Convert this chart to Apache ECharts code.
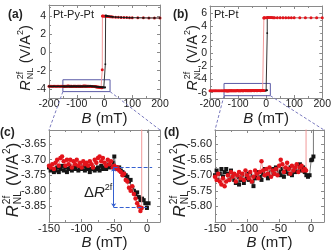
<!DOCTYPE html>
<html><head><meta charset="utf-8">
<script src="https://cdn.jsdelivr.net/npm/echarts@6/dist/echarts.min.js"></script>
<style>html,body{margin:0;padding:0;background:#fff}#c{width:334px;height:251px}</style>
</head><body><div id="c"></div>
<script>
// ---------- DATA ----------
// field sweep points shared by the zoomed panels (mT)
const bSweep = [-150,-147.5,-145,-142.5,-140,-137.5,-135,-132.5,-130,-127.5,-125,-122.5,-120,-117.5,-115,-112.5,-110,-107.5,-105,-102.5,-100,-97.5,-95,-92.5,-90,-87.5,-85,-82.5,-80,-77.5,-75,-72.5,-70,-67.5,-65,-62.5,-60,-57.5,-55,-52.5,-50,-47.5,-45,-42.5,-40,-37.5,-35,-32.5,-30,-27.5,-25,-22.5,-20,-17.5,-15,-12.5,-10];
// low-field extension for full sweeps
const lowExtB = [-200,-195,-190,-185,-180,-175,-170,-165,-160,-155];
// high branch fields
const blackHighB = [4,6,8,10,15,20,25,30,40,50,60,70,80,90,100,120,140,160,180,200];
const redHighB = [-7.5,-5,0,5,10,15,20,25,30,40,50,60,70,80,90,100,120,140,160,180,200];

// Pt-Py-Pt (panels a, c)
const redC = [-3.720,-3.725,-3.715,-3.730,-3.710,
  -3.700,-3.720,-3.695,-3.690, -3.705,-3.720,-3.700,-3.715,
  -3.700,-3.725,-3.705,-3.715, -3.700,-3.720,-3.710,-3.725,
  -3.705,-3.715,-3.710,-3.720, -3.705,-3.715,-3.725,-3.700,
  -3.710,-3.695,-3.690,-3.705, -3.695,-3.710,-3.720,-3.700,
  -3.715,-3.705,-3.725,-3.720, -3.730,-3.725,-3.735,-3.740,
  -3.750,-3.745,-3.765,-3.770, -3.790,-3.800,-3.785,-3.810,
  -3.825,-3.840,-3.850,-3.865];
const redTailBC = [-8, -8];
const redTailVC = [-3.855, -1.9];
const blackC = [-3.725,-3.735,-3.730,-3.740,-3.735,
  -3.725,-3.740,-3.730,-3.720, -3.735,-3.725,-3.740,-3.730,
  -3.720,-3.735,-3.725,-3.730, -3.720,-3.735,-3.725,-3.730,
  -3.720,-3.735,-3.725,-3.730, -3.740,-3.730,-3.725,-3.735,
  -3.730,-3.725,-3.735,-3.720, -3.730,-3.725,-3.730,-3.715,
  -3.725,-3.720,-3.710,-3.690, -3.725,-3.730,-3.725,-3.735,
  -3.740,-3.745,-3.750,-3.755, -3.770,-3.765,-3.790,-3.800,
  -3.810,-3.805,-3.820,-3.830];
const blackTailBC = [-7.5,-5,-2.5,0,2.5,3];
const blackTailVC = [-3.825,-3.830,-3.840,-3.855,-3.840,-1.3];
const redLowA = [-3.71,-3.72,-3.70,-3.715,-3.72,-3.705,-3.71,-3.72,-3.70,-3.715];
const blackLowA = [-3.73,-3.725,-3.735,-3.73,-3.72,-3.735,-3.73,-3.725,-3.735,-3.73];
const blackHighA = [4.05,4.03,4.01,3.99,3.96,3.94,3.92,3.90,3.87,3.85,3.84,3.83,3.82,3.81,3.81,3.80,3.79,3.78,3.78,3.77];
const redHighA = [3.98,3.98,3.97,3.96,3.95,3.93,3.92,3.90,3.89,3.86,3.85,3.84,3.83,3.82,3.81,3.81,3.80,3.79,3.78,3.78,3.77];

// Pt-Pt (panels b, d)
const redD = [-5.705,-5.715,-5.695,-5.720,-5.730,
  -5.710,-5.735,-5.720,-5.700, -5.715,-5.690,-5.705,-5.695,
  -5.720,-5.700,-5.690,-5.710, -5.695,-5.715,-5.685,-5.700,
  -5.710,-5.690,-5.720,-5.705, -5.685,-5.695,-5.710,-5.690,
  -5.655,-5.685,-5.700,-5.680, -5.695,-5.675,-5.705,-5.685,
  -5.695,-5.680,-5.700,-5.670, -5.650,-5.665,-5.690,-5.675,
  -5.660,-5.680,-5.695,-5.670, -5.685,-5.675,-5.665,-5.690,
  -5.675,-5.670,-5.685,-5.680];
const redTailBD = [-8, -8];
const redTailVD = [-5.685, 5.3];
const blackD = [-5.700,-5.685,-5.715,-5.695,-5.680,
  -5.705,-5.690,-5.680,-5.695, -5.710,-5.685,-5.700,-5.715,
  -5.725,-5.705,-5.730,-5.715, -5.700,-5.725,-5.710,-5.695,
  -5.715,-5.700,-5.720,-5.735, -5.710,-5.700,-5.690,-5.705,
  -5.715,-5.695,-5.680,-5.700, -5.710,-5.690,-5.700,-5.680,
  -5.695,-5.675,-5.685,-5.690, -5.700,-5.680,-5.705,-5.690,
  -5.680,-5.695,-5.675,-5.700, -5.685,-5.690,-5.670,-5.680,
  -5.665,-5.685,-5.675,-5.690];
const blackTailBD = [-7.5,-5,-2.5,0,1.5,3.5,4];
const blackTailVD = [-5.700,-5.705,-5.700,-5.652,-5.650,-5.640,3.0];
const redLowB = [-5.70,-5.71,-5.695,-5.705,-5.715,-5.70,-5.71,-5.695,-5.705,-5.71];
const blackLowB = [-5.705,-5.695,-5.71,-5.70,-5.69,-5.705,-5.715,-5.70,-5.695,-5.705];
const blackHighBB = [5.38,5.37,5.37,5.36,5.36,5.36,5.35,5.35,5.35,5.35,5.34,5.34,5.34,5.34,5.34,5.33,5.33,5.33,5.33,5.33];
const redHighBB = [5.33,5.34,5.34,5.35,5.35,5.35,5.35,5.34,5.34,5.34,5.34,5.34,5.34,5.33,5.33,5.33,5.33,5.33,5.33,5.33,5.33];

// axis tick labels
const xTicksFull = [-200,-100,0,100,200];
const xTicksZoom = [-150,-100,-50,0];
const yTicksA = [-4,-2,0,2,4];
const yTicksB = [-6,-4,-2,0,2,4,6];
const yTicksC = [-3.85,-3.80,-3.75,-3.70,-3.65];
const yTicksD = [-5.80,-5.75,-5.70,-5.65,-5.60];

// zoom boxes & annotations (data units)
const boxA = {x:[-150,20], y:[-4.3,-3.0]};
const boxB = {x:[-150,15], y:[-6.45,-4.6]};
const zoomX = [-150, 20];
const zoomYC = [-3.90, -3.605];
const zoomYD = [-5.85, -5.555];
const deltaB = -51, deltaTop = -3.725, deltaBottom = -3.853, dashEndTop = 8, dashEndBottom = 0;
const deltaLabelPos = [-53, -3.805];

// ---------- STYLE ----------
const FAM = '"Liberation Sans", Arial, sans-serif';
const FRAME = '#8a8a8a', TXT = '#222';
const RED = '#e3141b', REDLINE = '#f29a9a', BLK = '#151515', BLKLINE = '#777';
const BLUE = '#3560d0', BOX = '#5a5aa6', CONN = '#7b7bbf';

const chart = echarts.init(document.getElementById('c'), null, {renderer:'canvas'});
const pairs = (bs, vs) => bs.map((b,i)=>[b, vs[i]]);
const near = (arr, v) => arr.some(t => Math.abs(t - v) < 1e-6);

const xAxes = [], yAxes = [];
function addAxes(g, c) {
  const tick = {show:true, inside:true, length:3, lineStyle:{color:FRAME}};
  const minor = {show:true, splitNumber:2, length:2, lineStyle:{color:FRAME}};
  const line = {show:true, onZero:false, lineStyle:{color:FRAME, width:1}};
  const xBase = {type:'value', gridIndex:g, min:c.xMin, max:c.xMax, interval:c.xInt,
    axisLine:line, axisTick:tick, minorTick:minor, splitLine:{show:false}};
  xAxes.push(Object.assign({}, xBase, {position:'bottom',
    axisLabel:{margin:1, fontSize:c.lbl, color:TXT, fontFamily:FAM,
      formatter: v => near(c.xTicks, v) ? String(Math.round(v)) : ''},
    name:'{i|B} (mT)', nameLocation:'middle', nameGap:c.nameGap,
    nameTextStyle:{fontSize:15, color:TXT, fontFamily:FAM,
      rich:{i:{fontStyle:'italic', fontSize:15, color:TXT, fontFamily:FAM}}}}));
  xAxes.push(Object.assign({}, xBase, {position:'top', axisLabel:{show:false}}));
  const yBase = {type:'value', gridIndex:g, min:c.yMin, max:c.yMax, splitNumber:c.ySplit,
    axisLine:line, axisTick:tick, minorTick:minor, splitLine:{show:false}};
  yAxes.push(Object.assign({}, yBase, {position:'left',
    axisLabel:{margin:3, fontSize:c.lbl, color:TXT, fontFamily:FAM,
      formatter: v => near(c.yTicks, v) ? v.toFixed(c.yDig) : ''}}));
  yAxes.push(Object.assign({}, yBase, {position:'right', axisLabel:{show:false}}));
}
addAxes(0, {xMin:-200,xMax:200,xInt:100,xTicks:xTicksFull,yMin:-5,yMax:5.2,ySplit:5,yTicks:yTicksA,yDig:0,lbl:10.5,nameGap:11});
addAxes(1, {xMin:-200,xMax:200,xInt:100,xTicks:xTicksFull,yMin:-6.8,yMax:7.1,ySplit:7,yTicks:yTicksB,yDig:0,lbl:10.5,nameGap:11});
addAxes(2, {xMin:zoomX[0],xMax:zoomX[1],xInt:50,xTicks:xTicksZoom,yMin:zoomYC[0],yMax:zoomYC[1],ySplit:6,yTicks:yTicksC,yDig:2,lbl:11,nameGap:12});
addAxes(3, {xMin:zoomX[0],xMax:zoomX[1],xInt:50,xTicks:xTicksZoom,yMin:zoomYD[0],yMax:zoomYD[1],ySplit:6,yTicks:yTicksD,yDig:2,lbl:11,nameGap:12});

function lineSeries(g, data, red, size, z, lineCol) {
  return {type:'line', xAxisIndex:2*g, yAxisIndex:2*g, data,
    symbol: red ? 'circle' : 'rect', symbolSize: size,
    itemStyle:{color: red ? RED : BLK, borderWidth:0},
    lineStyle:{color: lineCol || (red ? REDLINE : BLKLINE), width:1},
    z, silent:true, animation:false, clip:true};
}

const sA_black = lineSeries(0, [...pairs(lowExtB, blackLowA), ...pairs(bSweep, blackC), ...pairs(blackTailBC, blackTailVC), ...pairs(blackHighB, blackHighA)], false, 1.6, 3, '#333');
const sA_red = lineSeries(0, [...pairs(lowExtB, redLowA), ...pairs(bSweep, redC), ...pairs(redTailBC, redTailVC), ...pairs(redHighB, redHighA)], true, 3, 2);
const sB_black = lineSeries(1, [...pairs(lowExtB, blackLowB), ...pairs(bSweep, blackD), ...pairs(blackTailBD, blackTailVD), ...pairs(blackHighB, blackHighBB)], false, 1.6, 2, '#333');
const sB_red = lineSeries(1, [...pairs(lowExtB, redLowB), ...pairs(bSweep, redD), ...pairs(redTailBD, redTailVD), ...pairs(redHighB, redHighBB)], true, 3, 3);
const sC_black = lineSeries(2, [...pairs(bSweep, blackC), ...pairs(blackTailBC, blackTailVC)], false, 4, 2);
const sC_red = lineSeries(2, [...pairs(bSweep, redC), ...pairs(redTailBC, redTailVC)], true, 4.5, 3);
const sD_black = lineSeries(3, [...pairs(bSweep, blackD), ...pairs(blackTailBD, blackTailVD)], false, 4, 2);
const sD_red = lineSeries(3, [...pairs(bSweep, redD), ...pairs(redTailBD, redTailVD)], true, 4.5, 3);

const boxArea = b => ({silent:true, itemStyle:{color:'rgba(0,0,0,0)', borderColor:BOX, borderWidth:1},
  data:[[{xAxis:b.x[0], yAxis:b.y[0]}, {xAxis:b.x[1], yAxis:b.y[1]}]]});
sA_black.markArea = boxArea(boxA);
sB_black.markArea = boxArea(boxB);

const dashed = {color:BLUE, width:1, type:[4,2]};
const solid = {color:BLUE, width:1, type:'solid'};
sC_red.markLine = {silent:true, symbolSize:4, label:{show:false}, lineStyle:dashed, animation:false,
  data:[
    [{coord:[deltaB, deltaTop], symbol:'none', lineStyle:dashed}, {coord:[dashEndTop, deltaTop], symbol:'none', lineStyle:dashed}],
    [{coord:[deltaB, deltaBottom], symbol:'none', lineStyle:dashed}, {coord:[dashEndBottom, deltaBottom], symbol:'none', lineStyle:dashed}],
    [{coord:[deltaB, deltaTop], symbol:'arrow', lineStyle:solid}, {coord:[deltaB, deltaBottom], symbol:'arrow', lineStyle:solid}]
  ]};

chart.setOption({
  animation:false,
  grid:[
    {left:49, top:5, width:111, height:93},
    {left:210, top:6, width:113, height:92},
    {left:49, top:130, width:111, height:92},
    {left:215, top:130, width:109, height:92}
  ],
  xAxis:xAxes, yAxis:yAxes,
  series:[sA_black, sA_red, sB_black, sB_red, sC_black, sC_red, sD_black, sD_red]
});

// ---------- annotations (text & connectors) ----------
const px = (g, pt) => chart.convertToPixel({xAxisIndex:2*g, yAxisIndex:2*g}, pt);
const mctx = document.createElement('canvas').getContext('2d');
const tw = (t, f) => { mctx.font = f; return mctx.measureText(t).width; };

function txt(x, y, text, font, align, extra) {
  return Object.assign({type:'text', x, y, silent:true,
    style:{text, font, fill:TXT, textAlign:align||'left', align:align||'left',
      textVerticalAlign:'middle', verticalAlign:'middle'}}, extra||{});
}
function yTitle(cx, cy, fs) {
  const sm = fs*0.62;
  const fR = `italic ${fs}px ${FAM}`, fN = `${fs}px ${FAM}`, fS = `${sm}px ${FAM}`;
  const wR = tw('R', fR), wSup = tw('2f', fS), wSub = tw('NL', fS);
  const wMid = tw(' (V/A', fN), w2 = tw('2', fS), wP = tw(')', fN);
  const gap = Math.max(wSup, wSub) + 0.5;
  const W = wR + 1 + gap + wMid + w2 + wP;
  let x = -W/2;
  const ch = [];
  ch.push(txt(x, 0, 'R', fR)); x += wR + 1;
  ch.push(txt(x, -fs*0.36, '2f', fS));
  ch.push(txt(x, fs*0.3, 'NL', fS)); x += gap;
  ch.push(txt(x, 0, ' (V/A', fN)); x += wMid;
  ch.push(txt(x, -fs*0.36, '2', fS)); x += w2;
  ch.push(txt(x, 0, ')', fN));
  return {type:'group', x:cx, y:cy, rotation:Math.PI/2, children:ch, silent:true};
}
function conn(p1, p2) {
  return {type:'line', silent:true, shape:{x1:p1[0], y1:p1[1], x2:p2[0], y2:p2[1]},
    style:{stroke:CONN, lineWidth:1, lineDash:[3,2]}, z:10};
}
const bold = `bold 12px ${FAM}`;
const dl = px(2, deltaLabelPos);
const graphic = [
  txt(8, 15, '(a)', bold), txt(173, 15, '(b)', bold),
  txt(0, 133, '(c)', bold), txt(164, 133, '(d)', bold),
  txt(53, 15, 'Pt-Py-Pt', `11px ${FAM}`), txt(214, 15, 'Pt-Pt', `11px ${FAM}`),
  yTitle(26, 58, 14.5), yTitle(193, 58, 14.5), yTitle(13, 180, 16.5), yTitle(180, 180, 16.5),
  {type:'text', x:dl[0], y:dl[1], silent:true, style:{
    text:'{d|Δ}{r|R}{s|2f}', fill:TXT, textAlign:'right', align:'right', textVerticalAlign:'middle', verticalAlign:'middle',
    rich:{d:{fontSize:15, fontFamily:FAM, fill:TXT, color:TXT, lineHeight:18},
          r:{fontSize:15, fontFamily:FAM, fontStyle:'italic', fill:TXT, color:TXT, lineHeight:18},
          s:{fontSize:9, fontFamily:FAM, fill:TXT, color:TXT, verticalAlign:'top', lineHeight:18}}}},
  conn(px(0, [boxA.x[0], boxA.y[0]]), px(2, [zoomX[0], zoomYC[1]])),
  conn(px(0, [boxA.x[1], boxA.y[0]]), px(2, [zoomX[1], zoomYC[1]])),
  conn(px(1, [boxB.x[0], boxB.y[0]]), px(3, [zoomX[0], zoomYD[1]])),
  conn(px(1, [boxB.x[1], boxB.y[0]]), px(3, [zoomX[1], zoomYD[1]]))
];
chart.setOption({graphic});
</script></body></html>
